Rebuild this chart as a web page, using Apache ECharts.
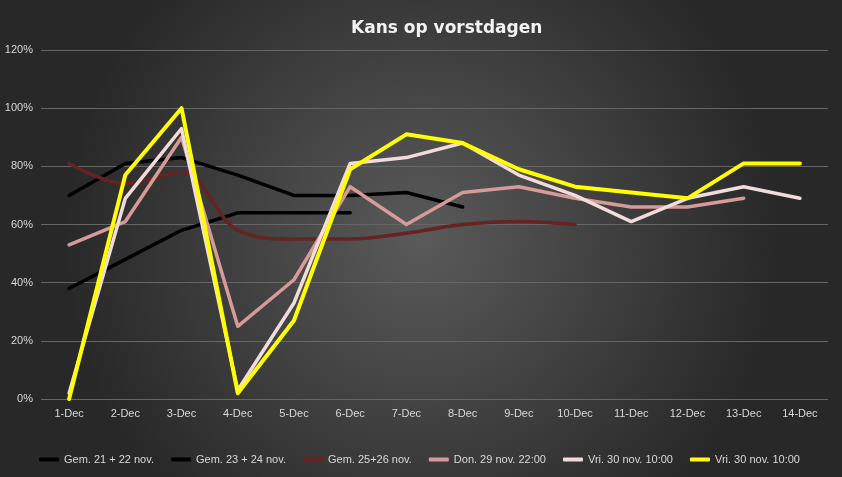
<html>
  <head>
    <meta charset="utf-8" />
    <script src="https://cdn.jsdelivr.net/npm/echarts@6.0.0/dist/echarts.min.js"></script>
    <style>
      body {
        height: 100vh;
        width: 100vw;
        margin: 0;
      }

      #main {
        width: 842px;
        height: 477px;
      }
    </style>
  </head>
  <body>
    <div id="main"></div>
    <script>
      const days = ['1-Dec', '2-Dec', '3-Dec', '4-Dec', '5-Dec', '6-Dec', '7-Dec',
        '8-Dec', '9-Dec', '10-Dec', '11-Dec', '12-Dec', '13-Dec', '14-Dec'];

      const gem2122 = [70, 81, 83, 77, 70, 70, 71, 66];
      const gem2324 = [38, 48, 58, 64, 64, 64];
      const gem2526 = [81, 74, 78, 58, 55, 55, 57, 60, 61, 60];
      const don29 = [53, 61, 90, 25, 41, 73, 60, 71, 73, 69, 66, 66, 69];
      const vri30a = [2, 69, 93, 3, 33, 81, 83, 88, 77, 70, 61, 69, 73, 69];
      const vri30b = [0, 77, 100, 2, 27, 79, 91, 88, 79, 73, 71, 69, 81, 81];

      const names = ['Gem. 21 + 22 nov.', 'Gem. 23 + 24 nov.', 'Gem. 25+26 nov.',
        'Don. 29 nov. 22:00', 'Vri. 30 nov. 10:00', 'Vri. 30 nov. 10:00 '];

      const font = "'Liberation Sans Narrow', 'Liberation Sans', sans-serif";

      function line(name, data, color, width, smooth) {
        return {
          name: name,
          type: 'line',
          data: data,
          showSymbol: false,
          smooth: smooth || false,
          color: color,
          lineStyle: { color: color, width: width, cap: 'round', join: 'round' },
        };
      }

      var myChart = echarts.init(document.querySelector('#main'));

      myChart.setOption({
        animation: false,
        backgroundColor: {
          type: 'radial',
          x: 0.5,
          y: 0.5,
          r: 0.75,
          colorStops: [
            { offset: 0, color: '#5a5a5a' },
            { offset: 1, color: '#282828' },
          ],
        },
        title: {
          text: 'Kans op vorstdagen',
          left: 346,
          top: 15,
          textStyle: {
            color: '#f2f2f2',
            fontSize: 17,
            fontWeight: 'bold',
            fontFamily: "'DejaVu Sans', sans-serif",
          },
        },
        legend: {
          bottom: 7,
          left: 'center',
          itemGap: 17,
          itemWidth: 20,
          itemHeight: 4,
          icon: 'roundRect',
          textStyle: { color: '#d9d9d9', fontSize: 11, fontFamily: font },
          data: names,
        },
        grid: { left: 41, right: 14, top: 50, bottom: 78 },
        xAxis: {
          type: 'category',
          data: days,
          boundaryGap: true,
          axisLine: { show: false },
          axisTick: { show: false },
          axisLabel: { color: '#d9d9d9', fontSize: 11, margin: 9, fontFamily: font },
        },
        yAxis: {
          type: 'value',
          min: 0,
          max: 120,
          interval: 20,
          axisLabel: {
            color: '#d9d9d9',
            fontSize: 11,
            margin: 8,
            fontFamily: font,
            formatter: '{value}%',
          },
          splitLine: { lineStyle: { color: '#666666', width: 1 } },
        },
        series: [
          line(names[0], gem2122, '#000000', 3.5),
          line(names[1], gem2324, '#000000', 3.5),
          line(names[2], gem2526, '#672222', 3.5, 0.35),
          line(names[3], don29, '#d69a98', 3.5),
          line(names[4], vri30a, '#f2dcdb', 3.5),
          line(names[5], vri30b, '#ffff00', 4),
        ],
      });
    </script>
  </body>
</html>
